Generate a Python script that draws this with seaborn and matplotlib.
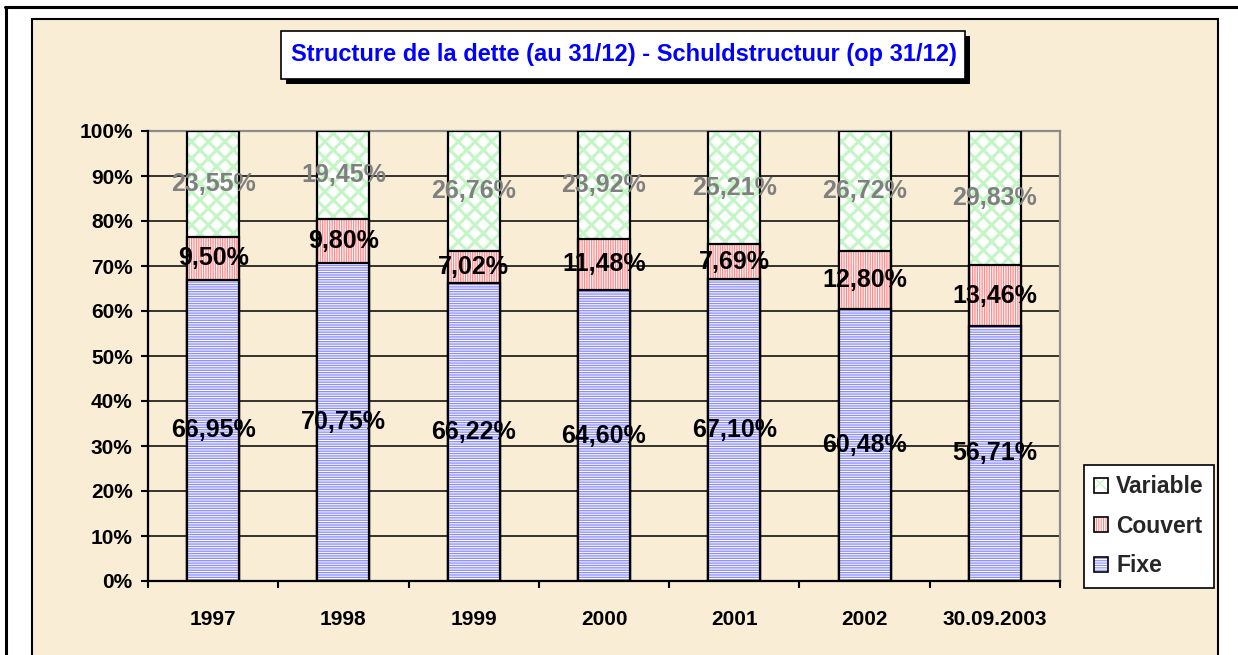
import numpy as np
import matplotlib
matplotlib.use("Agg")
import matplotlib.pyplot as plt
import seaborn as sns
from matplotlib.patches import Rectangle, Patch
from matplotlib.lines import Line2D
from matplotlib.legend_handler import HandlerTuple

# ── data ─────────────────────────────────────────────────
years    = ["1997", "1998", "1999", "2000", "2001", "2002", "30.09.2003"]
fixe     = [66.95, 70.75, 66.22, 64.60, 67.10, 60.48, 56.71]
couvert  = [9.50, 9.80, 7.02, 11.48, 7.69, 12.80, 13.46]
variable = [23.55, 19.45, 26.76, 23.92, 25.21, 26.72, 29.83]
y_ticks  = list(range(0, 101, 10))
title    = "Structure de la dette (au 31/12) - Schuldstructuur (op 31/12)"

sns.set_style("white")
plt.rcParams["font.family"] = ["Liberation Sans", "DejaVu Sans"]
plt.rcParams["hatch.linewidth"] = 0.8

W, H = 1238, 655
fig = plt.figure(figsize=(W / 100, H / 100), dpi=100)
fig.patch.set_facecolor("white")

def fx(x): return x / W
def fy(y): return 1 - y / H

# ── frame + parchment background ─────────────────────────
fig.add_artist(Line2D([fx(5), 1], [fy(7), fy(7)], color="black", lw=2.2,
                      transform=fig.transFigure))
fig.add_artist(Line2D([fx(6), fx(6)], [fy(8), 0], color="black", lw=2.2,
                      transform=fig.transFigure))
fig.add_artist(Rectangle((fx(32), fy(670)), fx(1218) - fx(32), fy(19) - fy(670),
                         facecolor="#FAEDD5", edgecolor="black", lw=1.5,
                         transform=fig.transFigure, zorder=-10))

# ── stacked bars ─────────────────────────────────────────
ax = fig.add_axes([fx(148), fy(581), fx(1060) - fx(148), fy(131) - fy(581)])
ax.set_facecolor("none")

cum_cou = [f + c for f, c in zip(fixe, couvert)]
cum_var = [f + c + v for f, c, v in zip(fixe, couvert, variable)]

# name, top of segment, hatch colour, hatch, hatch linewidth
layers = [
    ("Variable", cum_var, "#C4F5C4", "xx", 2.2),
    ("Couvert",  cum_cou, "#FF8C8C", "|||||||", 0.95),
    ("Fixe",     fixe,    "#8C8CFF", "-------", 0.95),
]
for name, vals, hc, hatch, hlw in layers:
    with plt.rc_context({"hatch.linewidth": hlw}):
        sns.barplot(x=years, y=vals, color="white", edgecolor=hc, hatch=hatch,
                    linewidth=0, width=0.4, errorbar=None, saturation=1, ax=ax)
    sns.barplot(x=years, y=vals, fill=False, color="black", linewidth=1.6,
                width=0.4, errorbar=None, saturation=1, ax=ax)

# value labels in the middle of each segment
def fmt(v):
    return f"{v:.2f}%".replace(".", ",")

for i in range(len(years)):
    ax.text(i, fixe[i] / 2, fmt(fixe[i]), ha="center", va="center",
            fontsize=18, fontweight="bold", color="black")
    ax.text(i, fixe[i] + couvert[i] / 2, fmt(couvert[i]), ha="center", va="center",
            fontsize=18, fontweight="bold", color="black")
    ax.text(i, cum_cou[i] + variable[i] / 2, fmt(variable[i]), ha="center",
            va="center", fontsize=18, fontweight="bold", color="#808080")

# ── axes styling ─────────────────────────────────────────
ax.set_xlabel(""); ax.set_ylabel("")
ax.set_ylim(0, 100)
ax.set_xlim(-0.5, len(years) - 0.5)
ax.set_yticks(y_ticks)
ax.set_yticklabels([f"{t}%" for t in y_ticks], fontsize=15, fontweight="bold")
ax.set_xticks(np.arange(-0.5, len(years), 1.0))
ax.set_xticklabels([])
ax.set_xticks(range(len(years)), minor=True)
ax.set_xticklabels(years, minor=True, fontsize=15, fontweight="bold")

ax.tick_params(axis="y", left=True, direction="out", length=5, width=1.5,
               color="black", labelcolor="black", pad=6)
ax.tick_params(axis="x", which="major", bottom=True, direction="out", length=5,
               width=1.5, color="black")
ax.tick_params(axis="x", which="minor", bottom=True, length=0, pad=21,
               labelcolor="black")

ax.set_axisbelow(True)
ax.yaxis.grid(True, color="black", lw=1.1)
ax.xaxis.grid(False)
for side in ["left", "bottom"]:
    ax.spines[side].set_color("black"); ax.spines[side].set_linewidth(1.6)
for side in ["top", "right"]:
    ax.spines[side].set_color("#8C8C8C"); ax.spines[side].set_linewidth(1.6)
    ax.spines[side].set_zorder(0.8)

# ── title box with shadow ────────────────────────────────
fig.add_artist(Rectangle((fx(286), fy(84)), fx(970) - fx(286), fy(36) - fy(84),
                         facecolor="black", edgecolor="none",
                         transform=fig.transFigure, zorder=5))
fig.add_artist(Rectangle((fx(281), fy(79)), fx(965) - fx(281), fy(31) - fy(79),
                         facecolor="white", edgecolor="black", lw=1.2,
                         transform=fig.transFigure, zorder=6))
fig.text(fx(624), fy(55), title, ha="center", va="center", fontsize=17,
         fontweight="bold", color="#0000FF", zorder=7)

# ── legend ───────────────────────────────────────────────
handles = []
for name, vals, hc, hatch, hlw in layers:
    with plt.rc_context({"hatch.linewidth": hlw}):
        h1 = Patch(facecolor="white", edgecolor=hc, hatch=hatch, linewidth=0)
    h2 = Patch(facecolor="none", edgecolor="black", linewidth=1.2)
    handles.append((h1, h2))
leg = fig.legend(handles, [l[0] for l in layers],
                 handler_map={tuple: HandlerTuple(ndivide=1)},
                 loc="upper left", bbox_to_anchor=(fx(1084), fy(465)),
                 frameon=True, fancybox=False, shadow=False, framealpha=1,
                 edgecolor="black", prop=dict(size=16.5, weight="bold"),
                 handlelength=0.6, handleheight=0.6, handletextpad=0.35,
                 labelspacing=0.72, borderpad=0.45, borderaxespad=0)
leg.get_frame().set_linewidth(1.2)

fig.savefig("out.png", dpi=100)
